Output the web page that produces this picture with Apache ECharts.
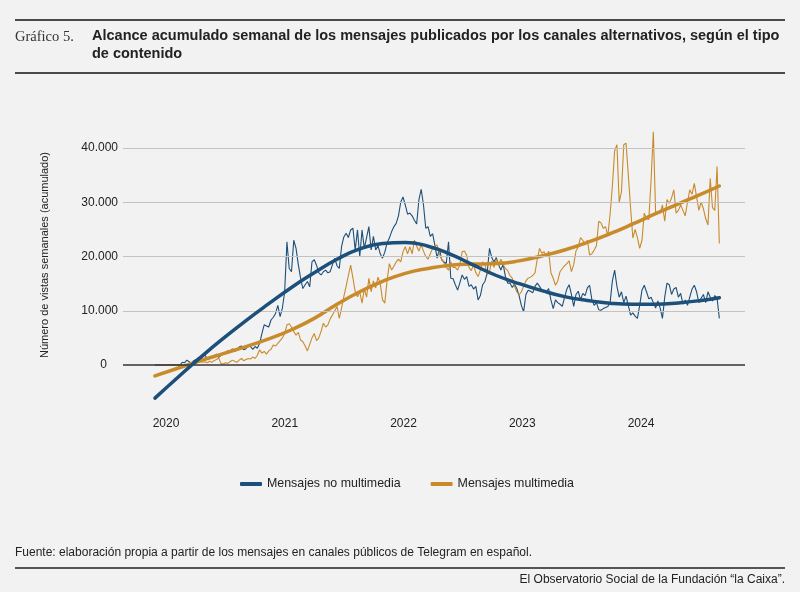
<!DOCTYPE html>
<html><head><meta charset="utf-8">
<script src="https://cdn.jsdelivr.net/npm/echarts@6/dist/echarts.min.js"></script>
<style>html,body{margin:0;padding:0;background:#f2f2f2}#c{width:800px;height:592px}</style>
</head><body><div id="c"></div>
<script>
// Weekly series start (decimal year) and weekly step
const START_YEAR = 2019.907;
const WEEK = 7 / 365.25;

const seriesNames = ['Mensajes no multimedia', 'Mensajes multimedia'];
const yearTicks = [2020, 2021, 2022, 2023, 2024];
const valueTicks = [0, 10000, 20000, 30000, 40000];

// weekly reach, thousands — non-multimedia
const noMultimedia = [
 0,0,0,0,0,0,0,0,0,0,
 0,0,0.5,0.4,0.9,0.6,0.3,0.8,1.0,1.3,
 1.3,1.6,1.8,1.2,1.5,1.3,1.6,2.0,1.4,1.8,
 2.0,2.2,2.6,2.4,3.0,2.5,2.8,3.3,3.5,2.8,
 3.0,3.6,3.4,2.9,3.4,3.1,4.0,5.8,7.4,7.2,
 7.0,8.3,8.8,9.5,11.0,8.9,10.5,13.5,22.7,17.8,
 17.2,23.0,21.5,18.5,16.0,14.1,14.8,15.4,14.4,19.0,
 19.4,18.4,17.0,16.6,17.2,17.5,17.0,17.2,18.5,19.7,
 18.3,17.8,21.8,23.6,24.3,23.5,24.9,25.2,21.2,24.9,
 20.0,24.9,21.5,23.5,25.5,21.2,23.7,21.2,22.0,20.5,
 19.7,20.8,22.5,23.4,24.6,25.5,26.1,27.5,30.0,31.0,
 29.5,27.8,28.0,27.5,26.7,26.0,30.5,32.4,29.5,25.2,
 25.5,23.7,24.2,22.1,19.7,21.5,19.4,19.0,18.7,22.7,
 16.0,15.9,14.8,13.8,15.2,16.6,15.8,16.3,14.5,14.8,
 14.0,14.5,12.0,12.8,14.8,15.4,17.0,21.5,19.8,19.0,
 19.8,18.5,17.5,18.6,16.3,15.1,15.1,14.3,14.9,14.1,
 12.8,11.0,9.8,13.0,13.8,13.6,13.3,14.5,15.1,14.5,
 13.8,13.4,13.5,14.1,12.0,10.4,12.0,11.5,11.2,10.8,
 12.5,14.0,14.8,13.0,10.8,13.0,13.6,12.0,13.2,12.8,
 14.2,14.7,12.0,11.0,11.5,10.2,10.1,10.4,10.6,10.8,
 11.5,15.5,17.5,14.5,12.5,13.5,11.5,12.7,11.0,9.2,
 9.6,9.0,8.6,11.0,13.8,14.7,13.5,12.2,12.5,11.5,
 10.5,11.8,10.5,8.6,12.5,15.1,14.8,13.0,14.0,14.3,
 12.5,13.2,11.2,12.0,11.0,12.5,14.0,14.7,13.5,11.5,
 12.3,13.0,11.5,13.5,12.5,11.8,12.8,12.3,8.6
];

// weekly reach, thousands — multimedia
const multimedia = [
 0,0,0,0,0,0,0,0,0,0,
 0,0,0,0,0,0,0,0.1,0.3,0.5,
 0.6,0.5,0.6,0.4,0.7,0.5,0.8,1.0,1.3,0.3,
 0.2,0.4,0.3,0.6,0.9,0.7,0.5,0.9,1.2,0.8,
 1.0,1.2,1.1,1.5,1.2,1.8,2.8,2.2,2.5,2.0,
 2.6,2.9,3.7,3.5,4.0,4.5,5.0,5.8,7.4,7.6,
 7.0,6.2,5.5,6.0,4.6,4.3,3.5,2.6,3.8,5.0,
 5.8,4.5,5.0,6.2,7.7,7.0,7.4,8.5,9.2,10.0,
 10.8,8.6,10.5,12.6,14.5,16.5,18.4,16.0,13.5,12.6,
 13.5,11.4,14.0,12.5,16.0,13.5,15.5,14.2,16.2,15.0,
 12.0,11.4,15.5,18.7,17.5,18.2,19.0,19.5,19.0,20.9,
 21.8,20.5,21.8,20.5,23.0,21.9,21.0,22.2,21.0,20.0,
 19.5,20.5,21.5,22.0,22.1,20.5,19.5,18.8,18.0,17.5,
 19.0,18.0,18.0,17.5,18.5,20.9,21.0,20.2,18.0,17.4,
 18.5,17.0,16.3,17.5,19.0,18.5,16.6,17.2,19.2,18.0,
 19.5,18.5,19.5,18.5,17.8,17.4,16.5,16.0,14.5,13.5,
 12.9,13.5,14.5,15.5,16.0,16.2,16.5,17.0,19.5,21.5,
 20.6,20.9,20.0,21.0,17.0,16.0,14.7,15.5,17.2,17.8,
 18.3,18.7,19.2,17.2,18.5,21.0,21.8,23.5,23.0,22.1,
 23.0,20.3,20.5,21.2,22.0,26.5,26.2,25.2,25.5,23.8,
 27.8,33.0,39.5,40.6,30.0,32.0,40.6,40.9,35.0,29.0,
 23.4,25.0,23.5,21.5,23.0,28.0,27.0,26.8,34.0,43.0,
 28.0,28.2,28.0,29.5,26.5,30.5,29.8,30.8,32.3,28.0,
 28.5,29.5,28.5,27.5,30.0,32.3,31.5,33.5,31.0,28.5,
 30.0,28.8,27.0,25.8,34.4,29.0,28.5,36.6,22.4
];

// smoothed trends, thousands, at these week indices
const trendWeeks = [0,10,20,30,40,50,60,70,80,90,100,110,120,130,140,150,160,170,180,190,200,210,220,230,240,248];
const trendNoMultimedia = [-6.1,-2.3,1.4,4.9,8.2,11.3,14.3,17.0,19.5,21.4,22.4,22.6,21.9,20.4,18.4,16.5,15.0,13.7,12.6,11.9,11.4,11.2,11.2,11.45,11.9,12.4];
const trendMultimedia = [-2.0,-0.6,0.8,2.1,3.4,4.8,6.5,8.6,11.2,13.5,15.4,16.9,17.8,18.4,18.6,18.7,19.2,20.1,21.2,22.6,24.2,26.0,27.9,29.7,31.5,33.0];

const BLUE = '#1c4f79';
const ORANGE = '#c98a2b';
const FONT = '"Liberation Sans", Arial, sans-serif';

const weekYear = i => START_YEAR + i * WEEK;
const toPairs = arr => arr.map((v, i) => [weekYear(i), v * 1000]);
const trendPairs = arr => arr.map((v, k) => [weekYear(trendWeeks[k]), v * 1000]);
const fmtThousands = v => String(v).replace(/\B(?=(\d{3})+(?!\d))/g, '.');

const chart = echarts.init(document.getElementById('c'), null, {renderer: 'canvas'});
chart.setOption({
  backgroundColor: '#f2f2f2',
  animation: false,
  textStyle: {fontFamily: FONT},
  grid: {left: 123, right: 55, top: 120.9, bottom: 183.6},
  xAxis: {
    type: 'value', min: 2019.638, max: 2024.876,
    axisLine: {show: false}, axisTick: {show: false}, splitLine: {show: false},
    axisLabel: {
      color: '#222', fontSize: 12, margin: 9, fontFamily: FONT,
      formatter: v => {
        const r = Math.round(v);
        return (Math.abs(v - r) < 1e-6 && yearTicks.includes(r)) ? String(r) : '';
      }
    }
  },
  yAxis: {
    type: 'value', min: -8000, max: 45000,
    axisLine: {show: false}, axisTick: {show: false}, splitLine: {show: false},
    axisLabel: {
      color: '#222', fontSize: 12, margin: 5, fontFamily: FONT,
      formatter: v => v === 0 ? '{z|0}' : (valueTicks.includes(v) ? fmtThousands(v) : ''),
      rich: {z: {padding: [0, 11, 0, 0], fontSize: 12, color: '#222', fontFamily: FONT}}
    }
  },
  legend: {
    data: seriesNames, left: 240, top: 478, padding: 0, itemGap: 30, itemWidth: 22, itemHeight: 4,
    icon: 'roundRect', textStyle: {color: '#222', fontSize: 12.4, fontFamily: FONT}
  },
  graphic: [
    {type: 'line', shape: {x1: 15, y1: 20, x2: 785, y2: 20}, style: {stroke: '#4a4a4a', lineWidth: 2}},
    {type: 'line', shape: {x1: 15, y1: 73, x2: 785, y2: 73}, style: {stroke: '#4a4a4a', lineWidth: 2}},
    {type: 'line', shape: {x1: 15, y1: 568, x2: 785, y2: 568}, style: {stroke: '#555', lineWidth: 2}},
    {type: 'text', x: 15, y: 37, style: {text: 'Gráfico 5.', font: '14.5px "Liberation Serif", serif', fill: '#333', verticalAlign: 'middle'}},
    {type: 'text', x: 92, y: 36, style: {text: 'Alcance acumulado semanal de los mensajes publicados por los canales alternativos, según el tipo', font: 'bold 14.5px ' + FONT, fill: '#222', verticalAlign: 'middle'}},
    {type: 'text', x: 92, y: 54, style: {text: 'de contenido', font: 'bold 14.5px ' + FONT, fill: '#222', verticalAlign: 'middle'}},
    {type: 'text', x: 45, y: 255, rotation: Math.PI / 2, style: {text: 'Número de vistas semanales (acumulado)', font: '11px ' + FONT, fill: '#222', align: 'center', verticalAlign: 'middle'}},
    {type: 'text', x: 15, y: 553, style: {text: 'Fuente: elaboración propia a partir de los mensajes en canales públicos de Telegram en español.', font: '12px ' + FONT, fill: '#222', verticalAlign: 'middle'}},
    {type: 'text', x: 785, y: 580, style: {text: 'El Observatorio Social de la Fundación “la Caixa”.', font: '12px ' + FONT, fill: '#222', align: 'right', verticalAlign: 'middle'}}
  ],
  series: [
    {
      type: 'line', data: [], silent: true, z: 1,
      markLine: {
        silent: true, symbol: ['none', 'none'], label: {show: false}, animation: false,
        lineStyle: {color: '#c2c2c2', width: 1, type: 'solid'},
        data: valueTicks.map(v => v === 0
          ? {yAxis: v, lineStyle: {color: '#333', width: 1.5, type: 'solid'}}
          : {yAxis: v})
      }
    },
    {name: seriesNames[0], type: 'line', z: 2, data: toPairs(noMultimedia), showSymbol: false, symbol: 'none',
     lineStyle: {color: BLUE, width: 1.1}, itemStyle: {color: BLUE}},
    {name: seriesNames[1], type: 'line', z: 3, data: toPairs(multimedia), showSymbol: false, symbol: 'none',
     lineStyle: {color: ORANGE, width: 1.1}, itemStyle: {color: ORANGE}},
    {name: seriesNames[1], type: 'line', z: 4, data: trendPairs(trendMultimedia), smooth: 0.5, showSymbol: false, symbol: 'none',
     lineStyle: {color: ORANGE, width: 3.5, cap: 'round'}, itemStyle: {color: ORANGE}},
    {name: seriesNames[0], type: 'line', z: 5, data: trendPairs(trendNoMultimedia), smooth: 0.5, showSymbol: false, symbol: 'none',
     lineStyle: {color: BLUE, width: 3.5, cap: 'round'}, itemStyle: {color: BLUE}}
  ]
});
</script></body></html>
